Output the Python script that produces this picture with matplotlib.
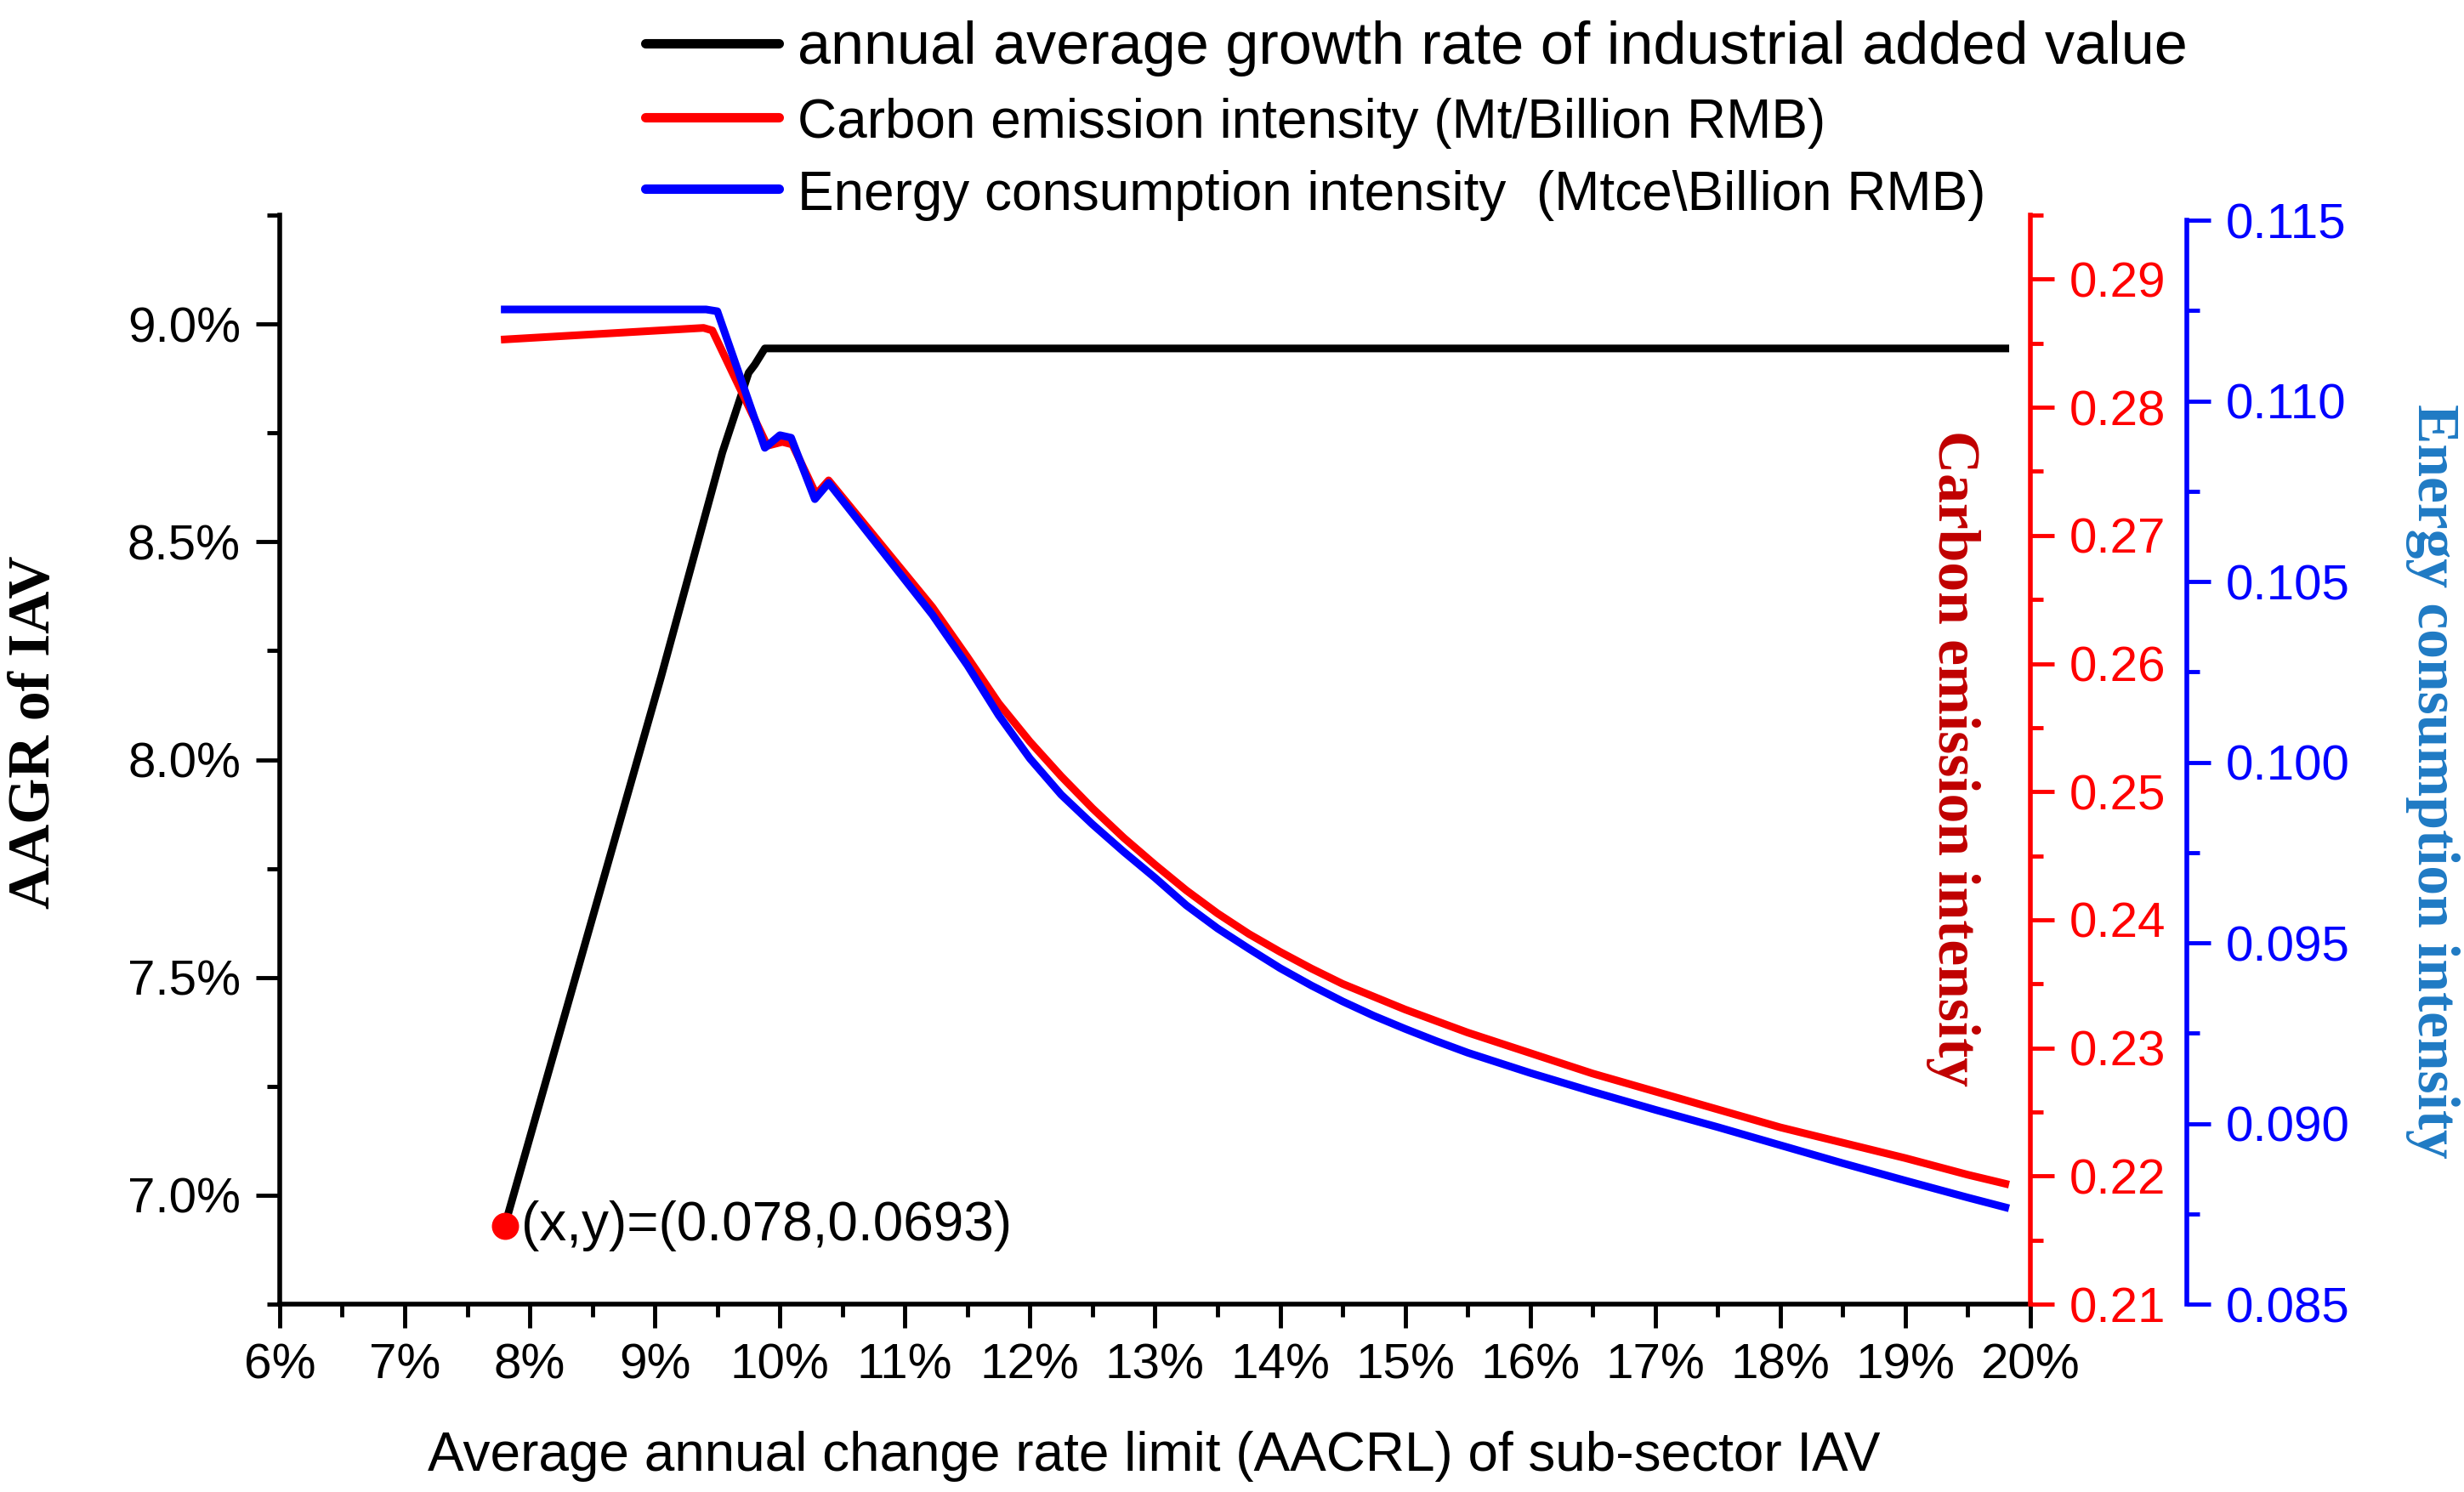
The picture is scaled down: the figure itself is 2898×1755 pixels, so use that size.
import matplotlib
matplotlib.use("Agg")
import matplotlib.pyplot as plt
from matplotlib.ticker import MultipleLocator, PercentFormatter, FormatStrFormatter
from matplotlib.lines import Line2D

plt.rcParams["font.family"] = ["Liberation Sans", "DejaVu Sans"]

# -------------------------------------------------------------------
# Data
# -------------------------------------------------------------------
aagr_x = [0.078, 0.0905, 0.0954, 0.0975, 0.0980, 0.0988, 0.198]
aagr_y = [0.0693, 0.0819, 0.08705, 0.08888, 0.08907, 0.08944, 0.08944]

carbon_x = [0.078, 0.0886, 0.0939, 0.0946, 0.0990, 0.1002, 0.1010, 0.1029,
            0.1039, 0.1122, 0.1150, 0.1175, 0.1200, 0.1225, 0.1250, 0.1275,
            0.1300, 0.1325, 0.1350, 0.1375, 0.1400, 0.1425, 0.1450, 0.1475,
            0.1500, 0.1550, 0.1600, 0.1650, 0.1700, 0.1750, 0.1800, 0.1850,
            0.1900, 0.1950, 0.1980]
carbon_y = [0.2853, 0.2859, 0.2862, 0.2860, 0.2770, 0.2773, 0.2771, 0.2732,
            0.2743, 0.2644, 0.2605, 0.2569, 0.2539, 0.2512, 0.2487, 0.2464,
            0.2443, 0.2423, 0.2405, 0.2389, 0.2375, 0.2362, 0.2350, 0.2340,
            0.2330, 0.2312, 0.2296, 0.2280, 0.2266, 0.2252, 0.2238, 0.2226,
            0.2214, 0.2201, 0.2194]

energy_x = [0.078, 0.0941, 0.0950, 0.0988, 0.1000, 0.1009, 0.1028, 0.1039,
            0.1122, 0.1150, 0.1175, 0.1200, 0.1225, 0.1250, 0.1275, 0.1300,
            0.1325, 0.1350, 0.1375, 0.1400, 0.1425, 0.1450, 0.1475, 0.1500,
            0.1525, 0.1550, 0.1600, 0.1650, 0.1700, 0.1750, 0.1800, 0.1850,
            0.1900, 0.1950, 0.1980]
energy_y = [0.11253, 0.11253, 0.11248, 0.10870, 0.10905, 0.10898, 0.10728, 0.10773,
            0.10408, 0.10268, 0.10130, 0.10010, 0.09910, 0.09828, 0.09752, 0.09680,
            0.09604, 0.09540, 0.09484, 0.09430, 0.09382, 0.09338, 0.09298, 0.09262,
            0.09228, 0.09196, 0.09140, 0.09088, 0.09038, 0.08990, 0.08940, 0.08890,
            0.08842, 0.08795, 0.08768]

start_point = (0.078, 0.0693)

legend_labels = ["annual average growth rate of industrial added value",
                 "Carbon emission intensity (Mt/Billion RMB)",
                 "Energy consumption intensity  (Mtce\\Billion RMB)"]

# -------------------------------------------------------------------
# Figure
# -------------------------------------------------------------------
fig = plt.figure(figsize=(28.98, 17.55), dpi=100)
ax = fig.add_axes([0.1135, 0.1259, 0.824 - 0.1135, 0.8558 - 0.1259])
ax2 = ax.twinx()
ax3 = ax.twinx()

LW = 6.5
TICK_FS = 42

ax.plot(aagr_x, aagr_y, color="black", lw=LW, zorder=3)
ax.plot(*start_point, "o", color="red", ms=22, zorder=5)
ax.text(start_point[0] + 0.0013, start_point[1], "(x,y)=(0.078,0.0693)",
        fontsize=46, va="center", ha="left")

ax2.plot(carbon_x, carbon_y, color="red", lw=LW, zorder=3)
ax3.plot(energy_x, energy_y, color="blue", lw=LW, zorder=4)

# host axes
ax.set_xlim(0.06, 0.20)
ax.set_ylim(0.0675, 0.0925)
ax.xaxis.set_major_locator(MultipleLocator(0.01))
ax.xaxis.set_minor_locator(MultipleLocator(0.005))
ax.yaxis.set_major_locator(MultipleLocator(0.005))
ax.yaxis.set_minor_locator(MultipleLocator(0.0025))
ax.xaxis.set_major_formatter(PercentFormatter(xmax=1, decimals=0))
ax.yaxis.set_major_formatter(PercentFormatter(xmax=1, decimals=1))
for s in ["top", "right"]:
    ax.spines[s].set_visible(False)
for s in ["left", "bottom"]:
    ax.spines[s].set_linewidth(4)
ax.tick_params(which="major", direction="out", length=20, width=3.5,
               labelsize=TICK_FS, pad=13)
ax.tick_params(which="minor", direction="out", length=11, width=3.5)

# carbon axis
ax2.set_ylim(0.21, 0.295)
ax2.yaxis.set_major_locator(MultipleLocator(0.01))
ax2.yaxis.set_minor_locator(MultipleLocator(0.005))
ax2.yaxis.set_major_formatter(FormatStrFormatter("%.2f"))
for s in ["top", "left", "bottom"]:
    ax2.spines[s].set_visible(False)
ax2.spines["right"].set_color("red")
ax2.spines["right"].set_linewidth(4)
ax2.tick_params(which="major", direction="out", length=20, width=3.5,
                colors="red", labelsize=TICK_FS, pad=13)
ax2.tick_params(which="minor", direction="out", length=11, width=3.5, colors="red")

# energy axis
ax3.spines["right"].set_position(("axes", 1.0894))
ax3.set_ylim(0.085, 0.11514)
ax3.spines["right"].set_bounds(0.085, 0.115)
ax3.yaxis.set_major_locator(MultipleLocator(0.005))
ax3.yaxis.set_minor_locator(MultipleLocator(0.0025))
ax3.yaxis.set_major_formatter(FormatStrFormatter("%.3f"))
for s in ["top", "left", "bottom"]:
    ax3.spines[s].set_visible(False)
ax3.spines["right"].set_color("blue")
ax3.spines["right"].set_linewidth(4)
ax3.tick_params(which="major", direction="out", length=20, width=3.5,
                colors="blue", labelsize=TICK_FS, pad=13)
ax3.tick_params(which="minor", direction="out", length=11, width=3.5, colors="blue")

# axis titles
fig.text(0.4685, 0.024, "Average annual change rate limit (AACRL) of sub-sector IAV",
         fontsize=46, ha="center", va="center")
fig.text(0.0141, 0.5094, "AAGR of IAV", rotation=90, fontsize=50,
         family="Liberation Serif", weight="bold", ha="center", va="center")
fig.text(0.7926, 0.4917, "Carbon emission intensity", rotation=270, fontsize=50,
         family="Liberation Serif", weight="bold", color="#C00000",
         ha="center", va="center")
fig.text(0.9872, 0.4764, "Energy consumption intensity", rotation=270, fontsize=50,
         family="Liberation Serif", weight="bold", color="#1F7AC4",
         ha="center", va="center")

# legend
handles = [Line2D([], [], color=c, lw=8, solid_capstyle="round")
           for c in ["black", "red", "blue"]]
leg = fig.legend(handles, legend_labels, loc="upper left", bbox_to_anchor=(0.2595, 0.990),
                 frameon=False, fontsize=50, handlelength=2.26, handletextpad=0.32,
                 labelspacing=0.33, borderpad=0.1, borderaxespad=0)
for txt, fs in zip(leg.get_texts(), [50.5, 46, 46]):
    txt.set_fontsize(fs)

fig.savefig("out.png", dpi=100)
